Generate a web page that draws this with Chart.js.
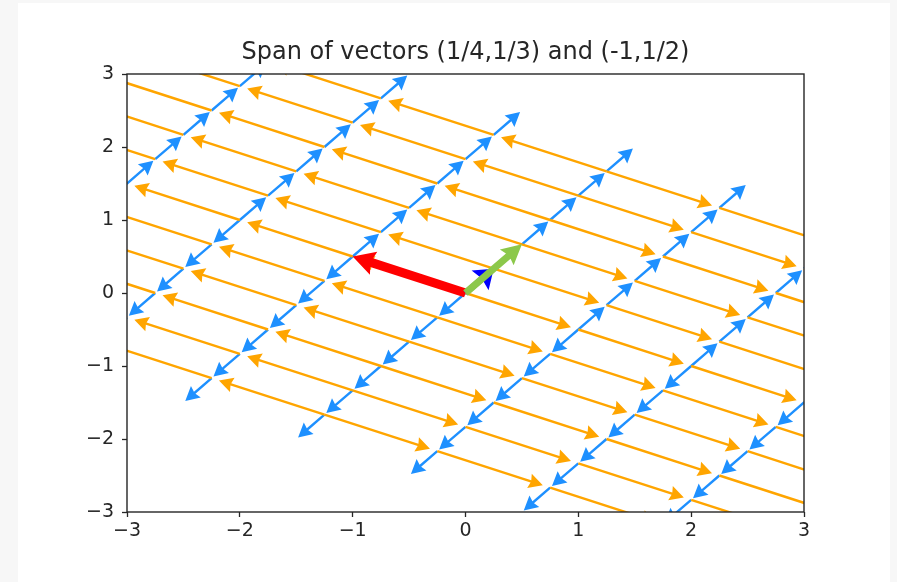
<!DOCTYPE html>
<html>
<head>
<meta charset="utf-8">
<script src="https://cdn.jsdelivr.net/npm/chart.js@4.4.0/dist/chart.umd.min.js"></script>
<style>
  html, body { margin: 0; padding: 0; background: #f7f7f7; }
  #panel { position: absolute; left: 18px; top: 3px; width: 872px; height: 579px; background: #fff; }
  canvas { position: absolute; left: 0; top: 0; }
</style>
</head>
<body>
<div id="panel"></div>
<canvas id="chart" width="897" height="582"></canvas>
<script>
// basis vectors and the lattice indices used for the span
const u = [1/4, 1/3];
const v = [-1, 1/2];
const sumVec = [1/2, 2/3];
const lineIndex = [-5, -4, -3, -2, -1, 0, 1, 2, 3, 4, 5];
const stepIndex = [0, 1, 2, 3, 4, 5];
const xTicks = [-3, -2, -1, 0, 1, 2, 3];
const yTicks = [-3, -2, -1, 0, 1, 2, 3];

const comb = (a, b) => ({ x: a * u[0] + b * v[0], y: a * u[1] + b * v[1] });

// blue: steps along u on each line through k*v; orange: steps along v on each line through k*u
const blueData = [];
const orangeData = [];
lineIndex.forEach(k => {
    stepIndex.forEach(m => {
        blueData.push(comb(m, k), comb(m + 1, k));
        blueData.push(comb(-m, k), comb(-m - 1, k));
        orangeData.push(comb(k, m), comb(k, m + 1));
        orangeData.push(comb(k, -m), comb(k, -m - 1));
    });
});

// thin arrows come out a little shorter than the full step, like the quiver output
const thin = { shaft: 2.4, headW: 15, headL: 14, headAxis: 12.5, shrink: 0.935 };

function drawArrow(ctx, x0, y0, x1, y1, s) {
    const full = Math.hypot(x1 - x0, y1 - y0);
    if (!full) return;
    const len = full * (s.shrink || 1);
    const ux = (x1 - x0) / full, uy = (y1 - y0) / full, px = -uy, py = ux;
    const hl = Math.min(s.headL, len), ha = Math.min(s.headAxis, len);
    const pt = (al, ac) => [x0 + ux * al + px * ac, y0 + uy * al + py * ac];
    const poly = [
        pt(0, -s.shaft / 2), pt(len - ha, -s.shaft / 2), pt(len - hl, -s.headW / 2),
        pt(len, 0),
        pt(len - hl, s.headW / 2), pt(len - ha, s.shaft / 2), pt(0, s.shaft / 2)
    ];
    ctx.beginPath();
    poly.forEach((p, i) => i ? ctx.lineTo(p[0], p[1]) : ctx.moveTo(p[0], p[1]));
    ctx.closePath();
    ctx.fill();
}

const arrowPlugin = {
    id: 'arrows',
    afterDatasetDraw(chart, args) {
        const ds = chart.data.datasets[args.index];
        const { ctx, chartArea: a, scales } = chart;
        ctx.save();
        ctx.beginPath();
        ctx.rect(a.left, a.top, a.right - a.left, a.bottom - a.top);
        ctx.clip();
        ctx.fillStyle = ds.arrowColor;
        for (let n = 0; n + 1 < ds.data.length; n += 2) {
            const p = ds.data[n], q = ds.data[n + 1];
            drawArrow(ctx,
                scales.x.getPixelForValue(p.x), scales.y.getPixelForValue(p.y),
                scales.x.getPixelForValue(q.x), scales.y.getPixelForValue(q.y),
                ds.arrowStyle);
        }
        ctx.restore();
    },
    afterDraw(chart) {
        const { ctx, chartArea: a } = chart;
        ctx.save();
        ctx.strokeStyle = '#262626';
        ctx.lineWidth = 1.4;
        ctx.strokeRect(a.left, a.top, a.right - a.left, a.bottom - a.top);
        ctx.restore();
    }
};

const fmt = val => val < 0 ? '\u2212' + Math.abs(val) : String(val);
const tickFont = { family: 'DejaVu Sans', size: 19 };

function hidden(label, data, color, style) {
    return { label, data, arrowColor: color, arrowStyle: style, showLine: false, pointRadius: 0, pointHoverRadius: 0 };
}

new Chart(document.getElementById('chart'), {
    type: 'scatter',
    data: {
        datasets: [
            hidden('sum', [{ x: 0, y: 0 }, { x: sumVec[0], y: sumVec[1] }], '#8cc84b', { shaft: 7, headW: 21, headL: 20, headAxis: 18 }),
            hidden('u', [{ x: 0, y: 0 }, { x: u[0], y: u[1] }], '#0000ff', { shaft: 6, headW: 26, headL: 18, headAxis: 16 }),
            hidden('v', [{ x: 0, y: 0 }, { x: v[0], y: v[1] }], '#ff0000', { shaft: 9, headW: 24, headL: 22, headAxis: 20 }),
            hidden('v steps', orangeData, '#ffa500', thin),
            hidden('u steps', blueData, '#1e90ff', thin)
        ]
    },
    options: {
        responsive: false,
        animation: false,
        layout: { padding: { left: 0, right: 93, top: 0, bottom: 0 } },
        plugins: {
            legend: { display: false },
            tooltip: { enabled: false },
            title: {
                display: true,
                fullSize: false,
                text: 'Span of vectors (1/4,1/3) and (-1,1/2)',
                color: '#262626',
                font: { family: 'DejaVu Sans', size: 24, weight: 'normal', lineHeight: 1.2 },
                padding: { top: 38, bottom: 7.2 }
            }
        },
        scales: {
            x: {
                type: 'linear', min: -3, max: 3,
                afterBuildTicks: s => { s.ticks = xTicks.map(t => ({ value: t })); },
                afterFit: s => { s.height = 70; },
                ticks: { callback: fmt, font: tickFont, color: '#262626', padding: 3, maxRotation: 0 },
                grid: { drawOnChartArea: false, drawTicks: true, tickLength: 5, tickWidth: 1.3, tickColor: '#262626' },
                border: { display: false }
            },
            y: {
                type: 'linear', min: -3, max: 3,
                afterBuildTicks: s => { s.ticks = yTicks.map(t => ({ value: t })); },
                afterFit: s => { s.width = 127; },
                ticks: { callback: fmt, font: tickFont, color: '#262626', padding: 8 },
                grid: { drawOnChartArea: false, drawTicks: true, tickLength: 5, tickWidth: 1.3, tickColor: '#262626' },
                border: { display: false }
            }
        }
    },
    plugins: [arrowPlugin]
});
</script>
</body>
</html>
